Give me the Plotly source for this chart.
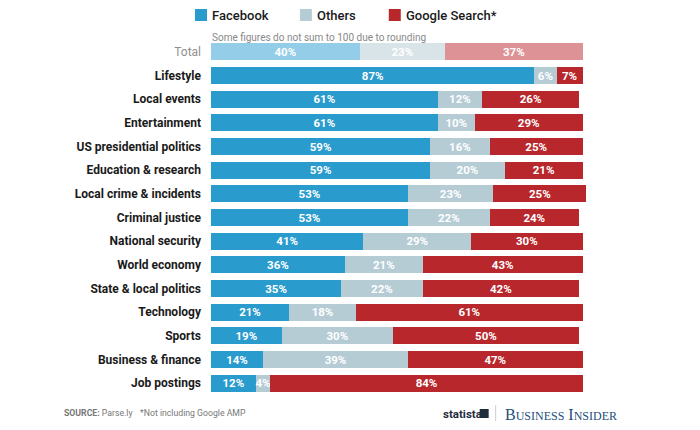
import plotly.graph_objects as go

categories = ["Total", "Lifestyle", "Local events", "Entertainment", "US presidential politics",
              "Education & research", "Local crime & incidents", "Criminal justice",
              "National security", "World economy", "State & local politics", "Technology",
              "Sports", "Business & finance", "Job postings"]
facebook = [40, 87, 61, 61, 59, 59, 53, 53, 41, 36, 35, 21, 19, 14, 12]
others = [23, 6, 12, 10, 16, 20, 23, 22, 29, 21, 22, 18, 30, 39, 4]
google = [37, 7, 26, 29, 25, 21, 25, 24, 30, 43, 42, 61, 50, 47, 84]

series = [
    ("Facebook", facebook, "#2a9bcd", "#93cde8"),
    ("Others", others, "#b5ccd5", "#d9e4e9"),
    ("Google Search*", google, "#b8272c", "#dd9396"),
]

FONT = "Roboto"

# page has an 8px body margin, so the plot frame is shifted by that
W = 3.72 * 102  # px for the x range 0..102
H = 355.0


def px(x):
    return (x - 211) / W


def py(y):
    return (395 - y) / H


fig = go.Figure()
for name, vals, col, col_total in series:
    fig.add_trace(go.Bar(
        y=categories, x=vals, orientation="h", name=name,
        marker=dict(color=[col_total] + [col] * (len(vals) - 1), line=dict(width=0)),
        text=[f"<b>{v}%</b>" for v in vals], textposition="inside",
        insidetextanchor="middle", textangle=0, constraintext="none",
        textfont=dict(color="white", size=11.5, family=FONT),
        cliponaxis=False, showlegend=False,
    ))

ticktext = ["<span style='color:#8f8f8f'>Total</span>"] + [f"<b>{c}</b>" for c in categories[1:]]

fig.update_layout(
    barmode="stack", bargap=0.28,
    width=700, height=430,
    margin=dict(l=203, r=700 - 203 - W, t=32, b=43),
    paper_bgcolor="white", plot_bgcolor="white",
    font=dict(family=FONT, color="#222"),
    xaxis=dict(range=[0, 102], visible=False, fixedrange=True),
    yaxis=dict(autorange="reversed", tickmode="array", tickvals=categories, ticktext=ticktext,
               tickfont=dict(size=12, color="#1a1a1a", family=FONT), ticks="",
               ticklabelstandoff=9, showgrid=False, fixedrange=True),
)

# legend drawn by hand
legend = [("Facebook", "#2a9bcd", 195), ("Others", "#b5ccd5", 300), ("Google Search*", "#b8272c", 389)]
for label, col, lx in legend:
    fig.add_shape(type="rect", xref="paper", yref="paper",
                  x0=px(lx), x1=px(lx + 12), y0=py(21), y1=py(9),
                  fillcolor=col, line=dict(width=0))
    fig.add_annotation(xref="paper", yref="paper", x=px(lx + 15), y=py(15),
                       text=label, showarrow=False, xanchor="left", yanchor="middle",
                       font=dict(size=13, color="#1a1a1a", family=FONT, weight=500))

fig.add_annotation(xref="paper", yref="paper", x=px(210), y=py(37),
                   text="Some figures do not sum to 100 due to rounding", showarrow=False,
                   xanchor="left", yanchor="middle", font=dict(size=10, color="#888", family=FONT))

# footer
fig.add_annotation(xref="paper", yref="paper", x=px(62), y=py(413),
                   text="<b>SOURCE:</b> Parse.ly", showarrow=False, xanchor="left", yanchor="middle",
                   font=dict(size=8.7, color="#777", family=FONT))
fig.add_annotation(xref="paper", yref="paper", x=px(138), y=py(413),
                   text="*Not including Google AMP", showarrow=False, xanchor="left", yanchor="middle",
                   font=dict(size=8.7, color="#777", family=FONT))
fig.add_annotation(xref="paper", yref="paper", x=px(441), y=py(414),
                   text="<b>statista</b>", showarrow=False, xanchor="left", yanchor="middle",
                   font=dict(size=11.5, color="#1f2d3d", family=FONT))
fig.add_shape(type="rect", xref="paper", yref="paper",
              x0=px(480), x1=px(489), y0=py(418), y1=py(409),
              fillcolor="#1f2d3d", line=dict(width=0))
fig.add_shape(type="line", xref="paper", yref="paper",
              x0=px(496), x1=px(496), y0=py(421), y1=py(405),
              line=dict(color="#ccc", width=1))
fig.add_annotation(xref="paper", yref="paper", x=px(503), y=py(414),
                   text="B<span style='font-size:12px'>USINESS</span> I<span style='font-size:12px'>NSIDER</span>",
                   showarrow=False, xanchor="left", yanchor="middle",
                   font=dict(size=16, color="#1d4f7a", family="Liberation Serif"))

fig.write_html("out.html")
